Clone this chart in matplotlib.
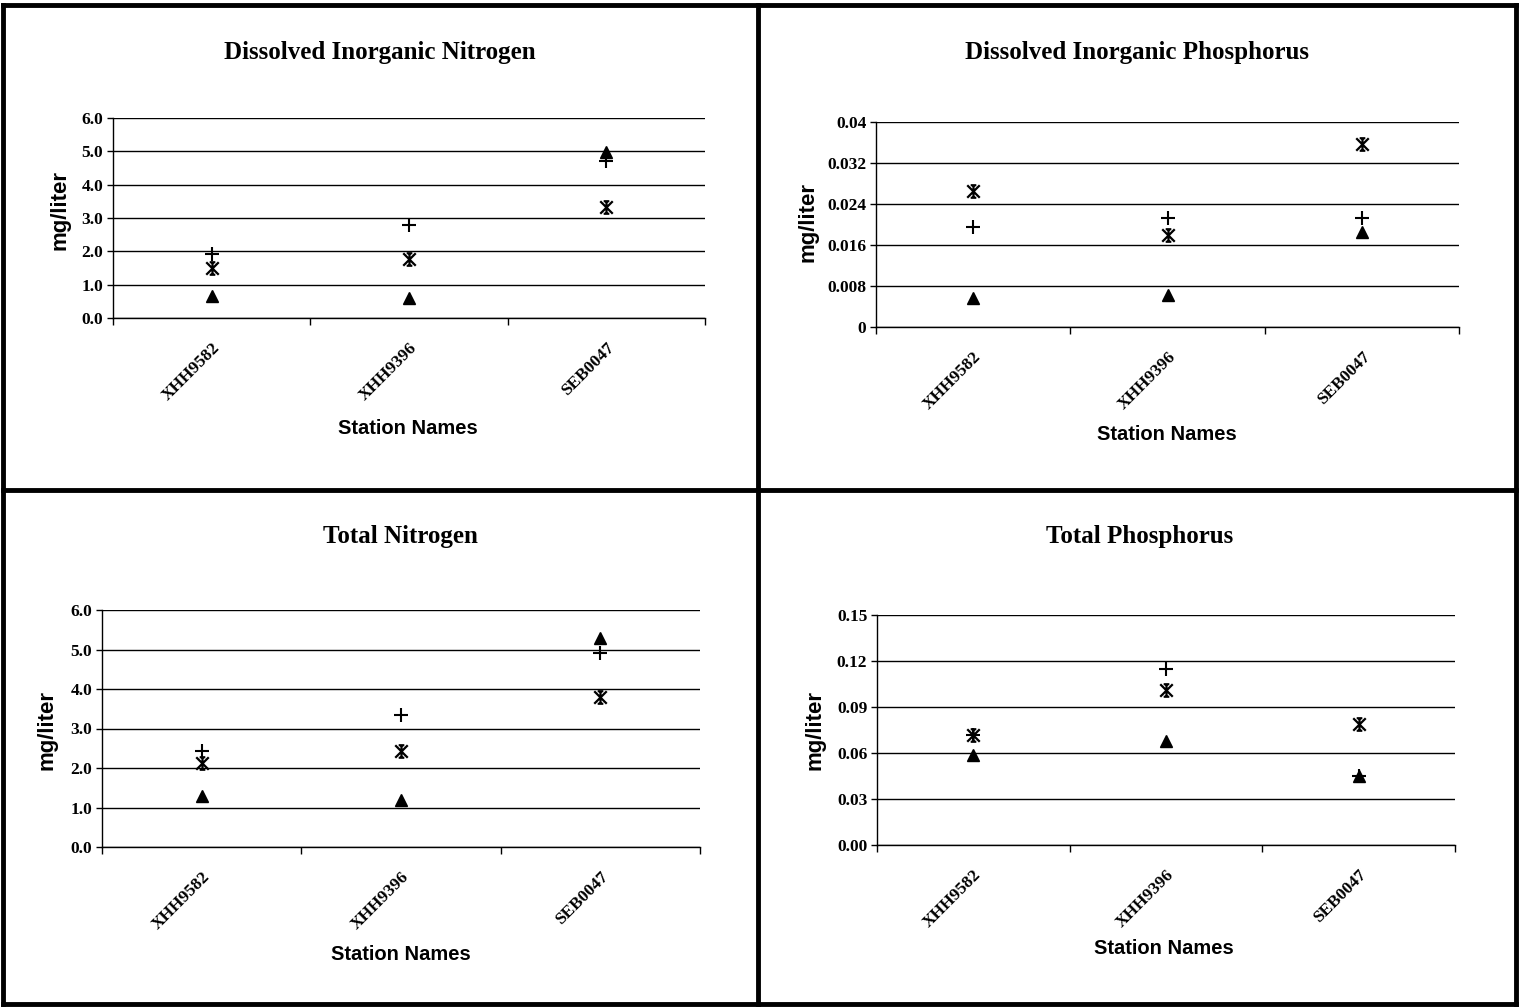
#!/usr/bin/env python3
"""Nutrient concentrations by station, four panels in the old spreadsheet style."""

import matplotlib
matplotlib.use("Agg")
import matplotlib.pyplot as plt
from matplotlib.lines import Line2D
from matplotlib.path import Path
import numpy as np

STATIONS = ["XHH9582", "XHH9396", "SEB0047"]

# dissolved inorganic nitrogen (mg/liter)
din_plus = [1.93, 2.80, 4.70]
din_star = [1.50, 1.76, 3.33]
din_tri = [0.66, 0.60, 4.97]

# dissolved inorganic phosphorus
dip_plus = [0.0195, 0.0213, 0.0213]
dip_star = [0.0266, 0.0179, 0.0357]
dip_tri = [0.0057, 0.0063, 0.0185]

# total nitrogen
tn_plus = [2.42, 3.33, 4.92]
tn_star = [2.12, 2.44, 3.80]
tn_tri = [1.29, 1.20, 5.28]

# total phosphorus
tp_plus = [0.072, 0.115, 0.045]
tp_star = [0.072, 0.101, 0.079]
tp_tri = [0.059, 0.068, 0.045]

SERIF = "Liberation Serif"
SANS = "Liberation Sans"

# x with a vertical bar and short caps, like the spreadsheet "star" marker
STAR = Path(
    [(-1, -1), (1, 1), (-1, 1), (1, -1), (0, -1), (0, 1),
     (-0.45, 1), (0.45, 1), (-0.45, -1), (0.45, -1)],
    [Path.MOVETO, Path.LINETO] * 5,
)

PANELS = [
    # title, plus, star, tri, yticks, fmt, rect, title xy, xlabel xy, ylabel xy
    ("Dissolved Inorganic Nitrogen", din_plus, din_star, din_tri,
     np.arange(0, 6.01, 1.0), "{:.1f}",
     (113, 118, 705, 318), (380, 52), (408, 428), (60, 210)),
    ("Dissolved Inorganic Phosphorus", dip_plus, dip_star, dip_tri,
     [0, 0.008, 0.016, 0.024, 0.032, 0.04], "{:g}",
     (876, 122, 1459, 327), (1137, 52), (1167, 434), (808, 222)),
    ("Total Nitrogen", tn_plus, tn_star, tn_tri,
     np.arange(0, 6.01, 1.0), "{:.1f}",
     (102, 610, 700, 847), (400, 537), (401, 954), (47, 730)),
    ("Total Phosphorus", tp_plus, tp_star, tp_tri,
     np.arange(0, 0.151, 0.03), "{:.2f}",
     (877, 615, 1455, 845), (1140, 537), (1164, 948), (815, 730)),
]

W, H = 1520, 1008


def fx(px):
    return px / W


def fy(py):
    return 1 - py / H


fig = plt.figure(figsize=(15.2, 10.08), dpi=100)

for title, plus, star, tri, yticks, fmt, rect, txy, xlxy, ylxy in PANELS:
    x0, y0, x1, y1 = rect
    ax = fig.add_axes([fx(x0), fy(y1), fx(x1) - fx(x0), fy(y0) - fy(y1)])
    xs = np.arange(len(STATIONS)) + 0.5
    ax.plot(xs, plus, linestyle="none", marker="+", markersize=10, mew=1.5, color="black")
    ax.plot(xs, star, linestyle="none", marker=STAR, markersize=9, mew=1.6,
            color="black", mfc="none")
    ax.plot(xs, tri, linestyle="none", marker="^", markersize=8.5, color="black")

    ax.set_xlim(0, len(STATIONS))
    ax.set_ylim(yticks[0], yticks[-1])
    ax.set_yticks(yticks)
    ax.set_yticklabels([fmt.format(v) for v in yticks], fontfamily=SERIF,
                       fontweight="bold", fontsize=12.5)
    ax.set_xticks(xs)
    ax.set_xticklabels(STATIONS, rotation=45, ha="right", rotation_mode="anchor",
                       fontfamily=SERIF, fontweight="bold", fontsize=12.5)
    ax.set_xticks(np.arange(len(STATIONS) + 1), minor=True)
    ax.tick_params(axis="x", which="major", length=0, pad=16)
    ax.tick_params(axis="x", which="minor", length=5, direction="out", width=1)
    ax.tick_params(axis="y", length=4, direction="out", width=1, pad=3)
    ax.grid(True, axis="y", color="black", linewidth=1.0)
    ax.set_axisbelow(True)
    for side in ("top", "right"):
        ax.spines[side].set_visible(False)
    for side in ("left", "bottom"):
        ax.spines[side].set_color("black")
        ax.spines[side].set_linewidth(1.0)

    fig.text(fx(txy[0]), fy(txy[1]), title, ha="center", va="center",
             fontfamily=SERIF, fontweight="bold", fontsize=18)
    fig.text(fx(xlxy[0]), fy(xlxy[1]), "Station Names", ha="center", va="center",
             fontfamily=SANS, fontweight="bold", fontsize=14.5)
    fig.text(fx(ylxy[0]), fy(ylxy[1]), "mg/liter", ha="center", va="center",
             rotation=90, fontfamily=SANS, fontweight="bold", fontsize=16)

# frame and dividers
lw = 3.5
for xs_, ys_ in [
    ((3, 1516), (5, 5)), ((3, 1516), (1004, 1004)),
    ((3, 3), (5, 1004)), ((1516, 1516), (5, 1004)),
    ((758, 758), (5, 1004)), ((3, 1516), (490, 490)),
]:
    fig.add_artist(Line2D([fx(v) for v in xs_], [fy(v) for v in ys_],
                          color="black", linewidth=lw, solid_capstyle="projecting"))

fig.savefig("out.png", dpi=100)
